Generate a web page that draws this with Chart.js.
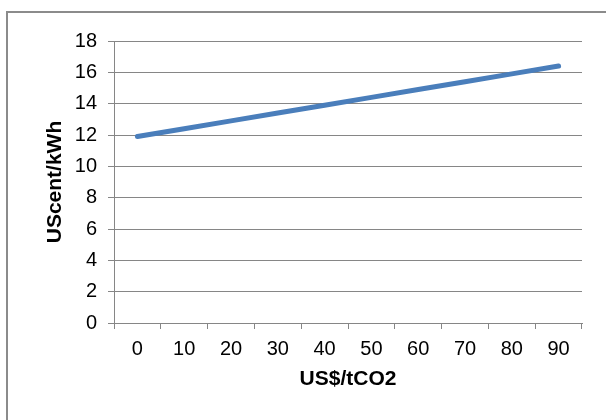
<!DOCTYPE html>
<html lang="en">
<head>
    <meta charset="UTF-8">
    <title>UScent/kWh vs US$/tCO2</title>
    <script src="https://cdn.jsdelivr.net/npm/chart.js"></script>
    <style>
        html, body { margin: 0; padding: 0; background: #fff; }
        #wrap { width: 606px; height: 420px; position: relative; }
    </style>
</head>
<body>
    <div id="wrap"><canvas id="costChart" width="606" height="420"></canvas></div>

    <script>
        // --- Data ---
        const carbonPrices = ['0', '10', '20', '30', '40', '50', '60', '70', '80', '90'];
        const costValues = [11.9, 12.4, 12.9, 13.4, 13.9, 14.4, 14.9, 15.4, 15.9, 16.4];
        const yMin = 0;
        const yMax = 18;
        const yStep = 2;

        const GRID = '#868686';
        const FONT = "'Liberation Sans', Arial, sans-serif";

        // outer frame like the spreadsheet chart border
        const framePlugin = {
            id: 'frame',
            beforeDraw(chart) {
                const ctx = chart.ctx;
                ctx.save();
                ctx.strokeStyle = '#8b8b8b';
                ctx.lineWidth = 2;
                ctx.strokeRect(7, 12, 640, 440);
                ctx.restore();
            }
        };

        const ctx = document.getElementById('costChart').getContext('2d');
        new Chart(ctx, {
            type: 'line',
            data: {
                labels: carbonPrices,
                datasets: [{
                    data: costValues,
                    borderColor: '#4a7ebb',
                    borderWidth: 5,
                    borderCapStyle: 'round',
                    pointRadius: 0,
                    tension: 0,
                    fill: false
                }]
            },
            options: {
                responsive: false,
                animation: false,
                layout: { padding: { left: 0, top: 41, right: 24, bottom: 0 } },
                plugins: {
                    legend: { display: false },
                    tooltip: { enabled: false }
                },
                scales: {
                    x: {
                        offset: true,
                        grid: { offset: true, drawOnChartArea: false, color: GRID, tickLength: 6 },
                        border: { color: GRID, width: 1 },
                        ticks: { color: '#000', padding: 8, maxRotation: 0, font: { family: FONT, size: 20 } },
                        title: {
                            display: true, text: 'US$/tCO2', color: '#000',
                            font: { family: FONT, size: 21, weight: 'bold' },
                            padding: { top: 28, bottom: 28 }
                        },
                        afterFit(scale) { scale.height = 97; }
                    },
                    y: {
                        min: yMin,
                        max: yMax,
                        grid: { color: GRID, tickLength: 6 },
                        border: { color: GRID, width: 1 },
                        ticks: { stepSize: yStep, color: '#000', padding: 11, font: { family: FONT, size: 20 } },
                        title: {
                            display: true, text: 'UScent/kWh', color: '#000',
                            font: { family: FONT, size: 21, weight: 'bold' },
                            padding: { top: 43, bottom: 0 }
                        },
                        afterFit(scale) { scale.width = 114; }
                    }
                }
            },
            plugins: [framePlugin]
        });
    </script>
</body>
</html>
